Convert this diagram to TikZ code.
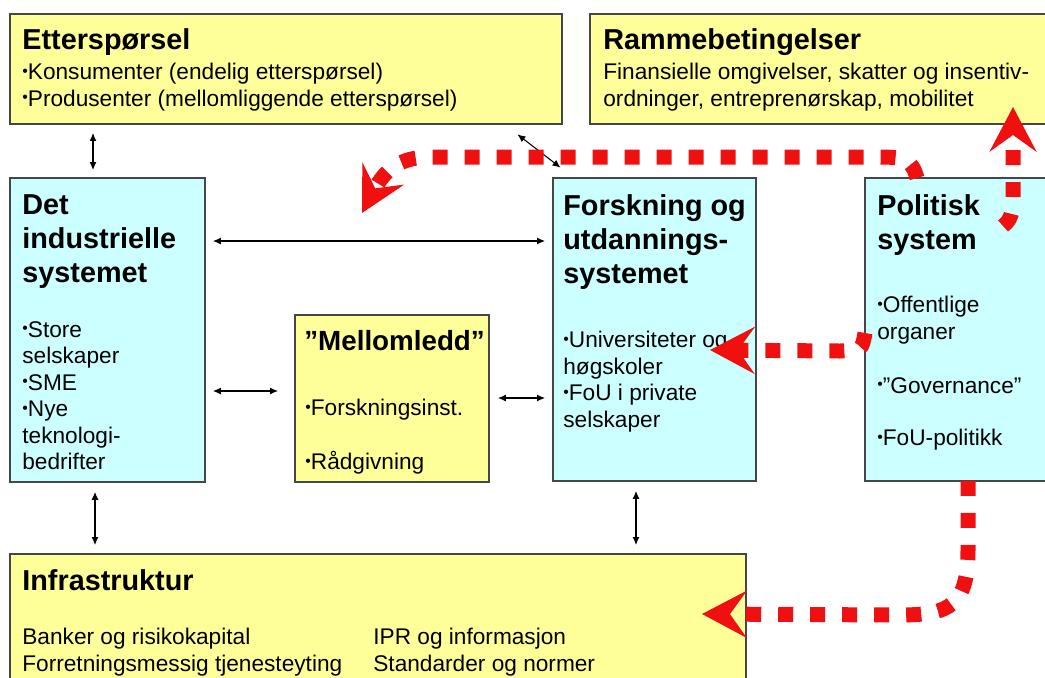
\documentclass[tikz,border=0pt]{standalone}
\usepackage{fontspec}
\setmainfont{Liberation Sans}
\usepackage{tikz}
\usetikzlibrary{arrows.meta, positioning}

\definecolor{boksgul}{RGB}{255,255,153}
\definecolor{boksbla}{RGB}{204,255,255}
\definecolor{kant}{RGB}{70,70,70}
\definecolor{pilrod}{RGB}{240,16,16}

\newcommand{\tittelfont}{\fontsize{16.4}{19.4}\selectfont\bfseries}
\newcommand{\tekstfont}{\fontsize{12.9}{15.1}\selectfont}
\newcommand{\pkt}{\raisebox{0.3ex}{\fontsize{9}{9}\selectfont•}}

\begin{document}
\begin{tikzpicture}[x=0.02cm, y=-0.02cm,
    boks/.style={draw=kant, line width=0.8pt, inner sep=0pt, outer sep=0pt, anchor=north west},
    gul/.style={boks, fill=boksgul},
    bla/.style={boks, fill=boksbla},
    tittel/.style={font=\tittelfont, inner sep=0pt, anchor=base west, align=left},
    tekst/.style={font=\tekstfont, inner sep=0pt, anchor=north west, align=left},
    kobling/.style={<->, >={Latex[length=1.6mm,width=1.4mm]}, line width=0.6pt},
    strategi/.style={draw=pilrod, line width=0.3cm, dash pattern=on 0.3cm off 0.34cm,
        -{Stealth[length=0.9cm,width=0.95cm,inset=0.34cm,line width=0pt]}}]
    \useasboundingbox (0,0) rectangle (1045,677);

    % Bokser
    \node[gul, minimum width=11.04cm, minimum height=2.2cm] (ettBox) at (10,14) {};
    \node[gul, minimum width=9.4cm, minimum height=2.2cm] (rammeBox) at (590,14) {};
    \node[bla, minimum width=3.9cm, minimum height=6.08cm] (indBox) at (10,178) {};
    \node[gul, minimum width=3.88cm, minimum height=3.34cm] (mellomBox) at (295,315) {};
    \node[bla, minimum width=4.06cm, minimum height=6.06cm] (forskBox) at (553,178) {};
    \node[bla, minimum width=3.9cm, minimum height=6.06cm] (polBox) at (865,178) {};
    \node[gul, minimum width=14.72cm, minimum height=2.8cm] (infraBox) at (10,554) {};

    % Tekster
    \node[tittel] (ettTittel) at (22,49) {Etterspørsel};
    \node[tekst] (ettTekst) at (22,63) {\pkt Konsumenter (endelig etterspørsel)\\\pkt Produsenter (mellomliggende etterspørsel)};
    \node[tittel] (rammeTittel) at (603,49) {Rammebetingelser};
    \node[tekst] (rammeTekst) at (603,63) {Finansielle omgivelser, skatter og insentiv-\\ordninger, entreprenørskap, mobilitet};

    \node[tittel, anchor=north west] (indTittel) at (22,194) {Det\\industrielle\\systemet};
    \node[tekst] (indTekst) at (22,321) {\pkt Store\\selskaper\\\pkt SME\\\pkt Nye\\teknologi-\\bedrifter};

    \node[tittel, font=\tittelfont\fontsize{15.8}{19}\selectfont] (mellomTittel) at (304,350) {”Mellomledd”};
    \node[tekst] (mellomTekst) at (305,399) {\pkt Forskningsinst.\\[15.6pt]\pkt Rådgivning};

    \node[tittel, anchor=north west] (forskTittel) at (563,194) {Forskning og\\utdannings-\\systemet};
    \node[tekst] (forskTekst) at (563,331) {\pkt Universiteter og\\høgskoler\\\pkt FoU i private\\selskaper};

    \node[tittel, anchor=north west] (polTittel) at (877,194) {Politisk\\system};
    \node[tekst] (polTekst) at (877,296) {\pkt Offentlige\\organer\\[15.5pt]\pkt ”Governance”\\[15pt]\pkt FoU-politikk};

    \node[tittel] (infraTittel) at (22,590) {Infrastruktur};
    \node[tekst] (infraVenstre) at (22,628) {Banker og risikokapital\\Forretningsmessig tjenesteyting};
    \node[tekst] (infraHoyre) at (373,628) {IPR og informasjon\\Standarder og normer};

    % Koblinger
    \draw[kobling, shorten <=0.18cm, shorten >=0.16cm] (ettBox.south -| 93,0) -- (indBox.north -| 93,0);
    \draw[kobling, shorten <=0.34cm, shorten >=0.34cm] (ettBox.south -| 504,0) -- (forskBox.north -| 574,0);
    \draw[kobling, shorten <=0.16cm, shorten >=0.16cm] (indBox.east |- 0,241) -- (forskBox.west |- 0,241);
    \draw[kobling, shorten <=0.16cm, shorten >=0.34cm] (indBox.east |- 0,391) -- (mellomBox.west |- 0,391);
    \draw[kobling, shorten <=0.18cm, shorten >=0.16cm] (mellomBox.east |- 0,398) -- (forskBox.west |- 0,398);
    \draw[kobling, shorten <=0.2cm, shorten >=0.18cm] (indBox.south -| 95,0) -- (infraBox.north -| 95,0);
    \draw[kobling, shorten <=0.2cm, shorten >=0.18cm] (forskBox.south -| 636,0) -- (infraBox.north -| 636,0);

    % Politiske virkemidler
    \coordinate (indMaal) at (362,213);
    \coordinate (rammeMaal) at (1013,107);
    \coordinate (forskMaal) at (710,350);
    \coordinate (infraMaal) at (702,614);
    \coordinate (polUt) at (1003,226);
    \draw[strategi] (polBox.north -| 917,0) .. controls (912,160) and (905,157) .. (880,157) -- (430,157) .. controls (398,157) and (384,172) .. (indMaal);
    \draw[strategi] (polUt) .. controls (1014,218) and (1013,205) .. (1013,190) -- (rammeMaal);
    \draw[strategi] (polBox.west |- 0,333) .. controls (862,350) .. (840,351) -- (forskMaal);
    \draw[strategi] (polBox.south -| 968,0) -- (968,550) .. controls (968,605) and (950,615) .. (900,615) -- (infraMaal);
\end{tikzpicture}
\end{document}
